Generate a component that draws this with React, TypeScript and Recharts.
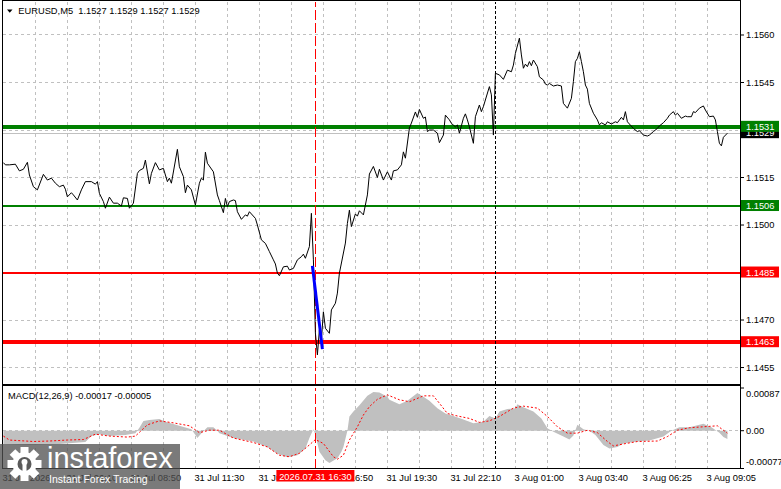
import React from 'react';
import { ComposedChart, Line, Area, XAxis, YAxis, ReferenceLine, CartesianGrid } from 'recharts';

const FONT = '"Liberation Sans", Arial, sans-serif';
const FS = 9.3;

// [bar index, close] vertices (bar 0 = first visible bar)
const priceTrace: Array<[number, number]> = [
  [0, 1.15197], [1, 1.1519], [3, 1.1519], [6, 1.15192], [8, 1.15171], [10, 1.15176], [12, 1.15198], [13, 1.15158], [15, 1.15121], [17, 1.15111],
  [20, 1.1516], [22, 1.15142], [24, 1.15148], [26, 1.15132], [28, 1.15121], [30, 1.15126], [31, 1.15113], [32, 1.15089], [34, 1.15102], [35, 1.15095],
  [37, 1.15079], [39, 1.15111], [41, 1.15137], [44, 1.15137], [46, 1.15129], [47, 1.15137], [48, 1.151], [50, 1.15074], [51, 1.15053], [53, 1.15088],
  [55, 1.15069], [57, 1.15069], [59, 1.1506], [60, 1.15086], [62, 1.15084], [63, 1.15053], [65, 1.15069], [67, 1.15163], [68, 1.15172], [70, 1.15179],
  [71, 1.15205], [73, 1.1513], [74, 1.15163], [76, 1.15197], [78, 1.15174], [80, 1.15179], [82, 1.15137], [83, 1.15148], [84, 1.15132], [87, 1.15239],
  [88, 1.15184], [90, 1.15153], [91, 1.15102], [92, 1.15126], [94, 1.15111], [96, 1.15063], [98, 1.15132], [99, 1.15148], [100, 1.15142], [101, 1.1523],
  [102, 1.15195], [105, 1.15168], [107, 1.15095], [108, 1.15077], [110, 1.15039], [111, 1.15084], [112, 1.15058], [113, 1.15074], [115, 1.15079], [116, 1.15077],
  [117, 1.15042], [119, 1.15018], [121, 1.15032], [122, 1.15028], [123, 1.15042], [126, 1.15021], [127, 1.15], [129, 1.14953], [131, 1.14942], [133, 1.14916],
  [135, 1.1489], [136, 1.14877], [137, 1.14848], [138, 1.1484], [140, 1.14868], [142, 1.1487], [143, 1.14858], [145, 1.14863], [147, 1.1489], [149, 1.149],
  [150, 1.14908], [151, 1.14895], [153, 1.14932], [154, 1.15037], [155, 1.1489], [156, 1.14659], [157, 1.1459], [158, 1.14669], [159, 1.14637], [160, 1.14726],
  [161, 1.14674], [163, 1.14658], [164, 1.14732], [166, 1.14753], [167, 1.14785], [168, 1.14848], [171, 1.14943], [172, 1.15005], [173, 1.15047], [174, 1.14995],
  [176, 1.15035], [177, 1.15028], [178, 1.15045], [180, 1.15032], [182, 1.15095], [183, 1.15161], [185, 1.15185], [187, 1.1515], [188, 1.15176], [190, 1.15142],
  [192, 1.15168], [194, 1.15142], [195, 1.15171], [197, 1.15174], [199, 1.1519], [200, 1.15231], [201, 1.15211], [203, 1.15306], [204, 1.15322], [206, 1.15357],
  [207, 1.1534], [208, 1.15365], [210, 1.15337], [211, 1.15341], [212, 1.15295], [213, 1.153], [215, 1.153], [217, 1.1529], [218, 1.1526], [220, 1.15284],
  [221, 1.15347], [223, 1.15332], [224, 1.15321], [226, 1.1531], [227, 1.15316], [228, 1.1529], [230, 1.15337], [231, 1.15351], [232, 1.15332], [233, 1.1531],
  [235, 1.15258], [236, 1.15342], [238, 1.15379], [239, 1.15358], [240, 1.15374], [243, 1.15437], [244, 1.15411], [245, 1.15284], [246, 1.15479], [248, 1.15474],
  [250, 1.1546], [252, 1.15489], [254, 1.15484], [255, 1.15505], [256, 1.15542], [258, 1.1559], [259, 1.15537], [260, 1.15495], [261, 1.15508], [262, 1.155],
  [263, 1.15516], [264, 1.15503], [265, 1.15521], [267, 1.155], [268, 1.15468], [270, 1.15458], [271, 1.15445], [272, 1.15442], [273, 1.15447], [275, 1.15439],
  [277, 1.15442], [279, 1.15439], [280, 1.15384], [282, 1.15369], [284, 1.154], [285, 1.15453], [286, 1.15516], [287, 1.15526], [288, 1.15547], [289, 1.15516],
  [290, 1.15484], [291, 1.15442], [292, 1.15429], [293, 1.15384], [295, 1.15353], [297, 1.15332], [298, 1.15316], [299, 1.15323], [301, 1.15316], [302, 1.15326],
  [304, 1.15319], [306, 1.15326], [307, 1.15323], [309, 1.1534], [310, 1.15332], [311, 1.15358], [312, 1.15326], [315, 1.15305], [317, 1.15295], [318, 1.15298],
  [320, 1.15284], [322, 1.15281], [323, 1.15284], [325, 1.15295], [327, 1.15305], [328, 1.15313], [330, 1.15323], [332, 1.15337], [333, 1.15347], [335, 1.15358],
  [336, 1.15347], [337, 1.15353], [339, 1.15337], [341, 1.15344], [342, 1.15342], [344, 1.15342], [345, 1.15358], [346, 1.15355], [348, 1.15369], [350, 1.15376],
  [351, 1.15363], [353, 1.15342], [355, 1.15344], [356, 1.15332], [357, 1.15295], [358, 1.15258], [359, 1.1525], [360, 1.15277], [362, 1.1529],
];

// MACD(12,26,9) main line, drawn as histogram
const macdTrace: Array<[number, number]> = [
  [0, -0.00027], [13, -0.00029], [28, -0.00027], [41, -0.00023], [44, -0.00011], [48, -0.00007], [53, -0.00011], [61, -0.00009], [66, -0.00005], [68, 0.00006],
  [70, 0.0002], [73, 0.00022], [78, 0.00024], [81, 0.00018], [88, 0.0001], [94, 0.00003], [96, -0.00009], [97, -0.00015], [99, -0.00005], [102, 0.00007],
  [105, 0.00007], [107, 0], [108, -0.00005], [115, -0.00015], [125, -0.00022], [132, -0.00033], [137, -0.00047], [142, -0.00054], [147, -0.0005], [151, -0.00036],
  [153, -0.00015], [155, 0.00003], [156, -0.00009], [158, -0.00043], [161, -0.0006], [163, -0.00066], [167, -0.00056], [169, -0.00043], [170, -0.00033], [172, 0],
  [173, 0.00029], [175, 0.00039], [178, 0.00052], [182, 0.00071], [185, 0.00079], [188, 0.00078], [192, 0.00069], [193, 0.00063], [198, 0.00054], [202, 0.00061],
  [207, 0.00077], [210, 0.00069], [213, 0.00061], [217, 0.00046], [221, 0.00035], [225, 0.0003], [230, 0.00023], [235, 0.00015], [240, 0.00018], [243, 0.0003],
  [246, 0.00025], [248, 0.00039], [252, 0.00044], [256, 0.00046], [257, 0.00054], [260, 0.00048], [265, 0.00039], [269, 0.00025], [272, 0.00005], [275, -0.00002],
  [280, -0.00012], [283, -0.00018], [285, -0.0001], [287, 0.00012], [290, 0.00003], [293, 0], [296, -0.00009], [300, -0.00029], [303, -0.00036], [307, -0.00033],
  [310, -0.00026], [317, -0.00022], [323, -0.0002], [330, -0.00012], [334, 0], [338, 0.00007], [343, 0.00007], [350, 0.00014], [354, 0.00007], [358, -0.00004],
  [360, -0.00013], [362, -0.00017],
];

// MACD signal line
const signalTrace: Array<[number, number]> = [
  [0, -0.00011], [3, -0.00019], [15, -0.00022], [23, -0.00021], [32, -0.00019], [40, -0.00018], [46, -0.00007], [53, -0.00011], [62, -0.00013], [66, -0.00011],
  [72, 0.00012], [78, 0.0002], [85, 0.00016], [93, 0.0001], [98, -0.00004], [103, 0.00001], [108, 0.00001], [115, -0.00015], [125, -0.00024], [132, -0.00033],
  [138, -0.0005], [143, -0.00053], [148, -0.00046], [153, -0.00029], [156, -0.00018], [160, -0.00026], [165, -0.00053], [167, -0.00058], [170, -0.0005], [173, -0.00019],
  [177, 0.00008], [180, 0.00032], [183, 0.00049], [187, 0.00064], [192, 0.00073], [198, 0.00063], [203, 0.00059], [210, 0.00071], [215, 0.00071], [218, 0.00056],
  [222, 0.00035], [227, 0.0003], [233, 0.00025], [238, 0.00017], [243, 0.0002], [248, 0.00029], [255, 0.00046], [260, 0.0005], [267, 0.00046], [272, 0.00029],
  [277, 0.00008], [282, -0.00005], [287, -0.00005], [292, 0.00001], [297, -0.00004], [302, -0.00022], [305, -0.00031], [310, -0.00027], [317, -0.00022], [327, -0.00021],
  [332, -0.00012], [337, 0.00001], [343, 0.00006], [350, 0.00008], [357, 0.0001], [362, -0.00005],
];

// blue trend line object
const trendTrace: Array<[number, number]> = [[154.5, 1.14871], [159.5, 1.14608]];

const supportResistance = [1.1531, 1.1506, 1.1485, 1.1463];
const levelColors = ['#008000', '#008000', '#ff0000', '#ff0000'];
const levelWidths = [4, 2, 2, 4];
const bidPrice = 1.1529;

const priceGrid = [1.1455, 1.147, 1.1485, 1.15, 1.1515, 1.153, 1.1545, 1.156];
const priceAxisTicks = [1.1455, 1.147, 1.15, 1.1515, 1.1545, 1.156];
const macdAxisTicks = [0.00087, 0, -0.00077];
const macdAxisLabels = ['0.00087', '0.00', '-0.00077'];

const gridBars = [16, 32, 48, 64, 80, 96, 112, 128, 144, 160, 176, 192, 208, 224, 240, 256, 272, 288, 304, 320, 336, 352];
const timeTickBars = [0, 32, 64, 96, 128, 160, 192, 224, 256, 288, 320, 352];
const timeLabels = [
  '31 Jul 2026', '31 Jul 06:10', '31 Jul 08:50', '31 Jul 11:30', '31 Jul 14:10', '31 Jul 16:50',
  '31 Jul 19:30', '31 Jul 22:10', '3 Aug 01:00', '3 Aug 03:40', '3 Aug 06:25', '3 Aug 09:05',
];
const cursorBar = 156;
const cursorLabel = '2026.07.31 16:30';
const weekStartBar = 246;

const X_DOMAIN: [number, number] = [-0.2, 368.3];
const P_DOMAIN: [number, number] = [1.14498, 1.157042];
const M_DOMAIN: [number, number] = [-0.00077, 0.00087];

const priceData = priceTrace.map(([i, p]) => ({ i, p }));
const trendData = trendTrace.map(([i, p]) => ({ i, p }));
const macdData = macdTrace.map(([i, v]) => ({ i, v }));
const signalData = signalTrace.map(([i, v]) => ({ i, v }));

// cursor tag comes last so it is painted over the regular time labels
const timeAxisTicks = [...timeTickBars, cursorBar];

const txt = { fontSize: FS, fontFamily: FONT, fill: '#000' };

function PriceTick(props: any) {
  const { x, y, payload } = props;
  return <text x={x} y={y + 3.3} {...txt}>{Number(payload.value).toFixed(4)}</text>;
}

function MacdTick(props: any) {
  const { x, y, payload } = props;
  const k = macdAxisTicks.indexOf(payload.value);
  const shift = k === 0 ? 6 : k === 2 ? -6.5 : 0;
  return <text x={x} y={y + shift + 3.3} {...txt}>{macdAxisLabels[k]}</text>;
}

function TimeTick(props: any) {
  const { x, y, payload } = props;
  if (payload.value === cursorBar) {
    return (
      <g>
        <rect x={x - 39} y={y + 1.5} width={78} height={11.5} fill="#ff0000" />
        <text x={x} y={y + 11} textAnchor="middle" fontSize={FS} fontFamily={FONT} fill="#fff">{cursorLabel}</text>
      </g>
    );
  }
  const k = timeTickBars.indexOf(payload.value);
  return <text x={x - 1} y={y + 12.5} {...txt}>{timeLabels[k]}</text>;
}

const levelTag = (text: string, bg: string) => (props: any) => {
  const vb = props.viewBox || {};
  const x0 = (vb.x || 0) + (vb.width || 0) + 1;
  const y0 = vb.y || 0;
  return (
    <g>
      <rect x={x0} y={y0 - 6} width={38} height={11} fill={bg} />
      <text x={x0 + 5} y={y0 + 3.2} fontSize={FS} fontFamily={FONT} fill="#fff">{text}</text>
    </g>
  );
};

function Gear() {
  const teeth = [0, 45, 90, 135, 180, 225, 270, 315];
  return (
    <g transform="translate(24.5 464)">
      {teeth.map((a) => (
        <rect key={a} x={-4} y={-17} width={8} height={8} fill="#fff" transform={`rotate(${a})`} />
      ))}
      <circle r={12} fill="#fff" />
      <circle r={7} fill="#5a5a5a" />
      <circle cy={-2} r={3} fill="#fff" />
      <rect x={-2} y={0} width={4} height={10} fill="#fff" />
    </g>
  );
}

export default function App() {
  return (
    <div style={{ position: 'absolute', left: 0, top: 0, width: 781, height: 489, background: '#fff', overflow: 'hidden' }}>
      <style>{'body{margin:0;overflow:hidden}'}</style>
      <div style={{ position: 'absolute', left: 0, top: 0 }}>
        <ComposedChart width={781} height={384} margin={{ top: 2, right: 0, bottom: 0, left: 3 }}>
          <CartesianGrid
            stroke="#c0c0c0"
            strokeDasharray="3 3"
            shapeRendering="crispEdges"
            horizontalValues={priceGrid}
            verticalValues={gridBars}
          />
          <XAxis type="number" dataKey="i" domain={X_DOMAIN} allowDataOverflow hide />
          <YAxis
            orientation="right"
            width={41}
            type="number"
            domain={P_DOMAIN}
            allowDataOverflow
            ticks={priceAxisTicks}
            interval={0}
            tickSize={4}
            tickMargin={2}
            axisLine={false}
            tickLine={{ stroke: '#000' }}
            tick={PriceTick}
          />
          <ReferenceLine y={bidPrice} stroke="#c0c0c0" shapeRendering="crispEdges" label={levelTag(bidPrice.toFixed(4), '#000')} />
          {supportResistance.map((lv, k) => (
            <ReferenceLine
              key={lv}
              y={lv}
              stroke={levelColors[k]}
              strokeWidth={levelWidths[k]}
              shapeRendering="crispEdges"
              label={levelTag(lv.toFixed(4), levelColors[k])}
            />
          ))}
          <ReferenceLine x={cursorBar} stroke="#ff0000" strokeDasharray="10 3" shapeRendering="crispEdges" />
          <ReferenceLine x={weekStartBar} stroke="#000" strokeDasharray="3 2" shapeRendering="crispEdges" />
          <Line data={priceData} dataKey="p" type="linear" stroke="#000" strokeWidth={1} dot={false} isAnimationActive={false} />
          <Line data={trendData} dataKey="p" type="linear" stroke="#0000ff" strokeWidth={3} dot={false} isAnimationActive={false} />
        </ComposedChart>
      </div>
      <div style={{ position: 'absolute', left: 0, top: 386 }}>
        <ComposedChart width={781} height={103} margin={{ top: 2, right: 0, bottom: 0, left: 3 }}>
          <CartesianGrid
            stroke="#c0c0c0"
            strokeDasharray="3 3"
            shapeRendering="crispEdges"
            horizontalValues={[0]}
            verticalValues={gridBars}
          />
          <XAxis
            type="number"
            dataKey="i"
            domain={X_DOMAIN}
            allowDataOverflow
            ticks={timeAxisTicks}
            interval={0}
            height={20.5}
            tickSize={0}
            tickMargin={0}
            tickLine={false}
            axisLine={false}
            tick={TimeTick}
          />
          <YAxis
            orientation="right"
            width={41}
            type="number"
            domain={M_DOMAIN}
            allowDataOverflow
            ticks={macdAxisTicks}
            interval={0}
            tickSize={4}
            tickMargin={2}
            axisLine={false}
            tickLine={{ stroke: '#000' }}
            tick={MacdTick}
          />
          <Area data={macdData} dataKey="v" type="linear" stroke="none" fill="#c0c0c0" fillOpacity={1} baseValue={0} isAnimationActive={false} />
          <Line data={signalData} dataKey="v" type="linear" stroke="#ff0000" strokeDasharray="2 2" strokeWidth={1} dot={false} isAnimationActive={false} />
          <ReferenceLine x={cursorBar} stroke="#ff0000" strokeDasharray="10 3" shapeRendering="crispEdges" />
          <ReferenceLine x={weekStartBar} stroke="#000" strokeDasharray="3 2" shapeRendering="crispEdges" />
        </ComposedChart>
      </div>
      <svg width={781} height={489} style={{ position: 'absolute', left: 0, top: 0, pointerEvents: 'none' }}>
        <line x1={2.5} y1={0} x2={2.5} y2={469} stroke="#000" />
        <line x1={2} y1={0.5} x2={741} y2={0.5} stroke="#000" />
        <line x1={740.5} y1={0} x2={740.5} y2={469} stroke="#000" />
        <rect x={2} y={384} width={739} height={2} fill="#000" />
        <line x1={2} y1={468.5} x2={741} y2={468.5} stroke="#000" />
        <polygon points="7,9.5 12.5,9.5 9.75,12.8" fill="#000" />
        <text x={18.3} y={14.3} {...txt} style={{ whiteSpace: 'pre' }}>EURUSD,M5  1.1527 1.1529 1.1527 1.1529</text>
        <text x={8} y={399} {...txt}>MACD(12,26,9) -0.00017 -0.00005</text>
        <g>
          <rect x={0} y={444} width={180} height={45} fill="rgba(80,80,80,0.76)" />
          <Gear />
          <text x={47} y={468} fontSize={29} fontFamily={FONT} fill="#fff">instaforex</text>
          <text x={49} y={482.5} fontSize={10.5} fontFamily={FONT} fill="#fff">Instant Forex Tracing</text>
        </g>
      </svg>
    </div>
  );
}
